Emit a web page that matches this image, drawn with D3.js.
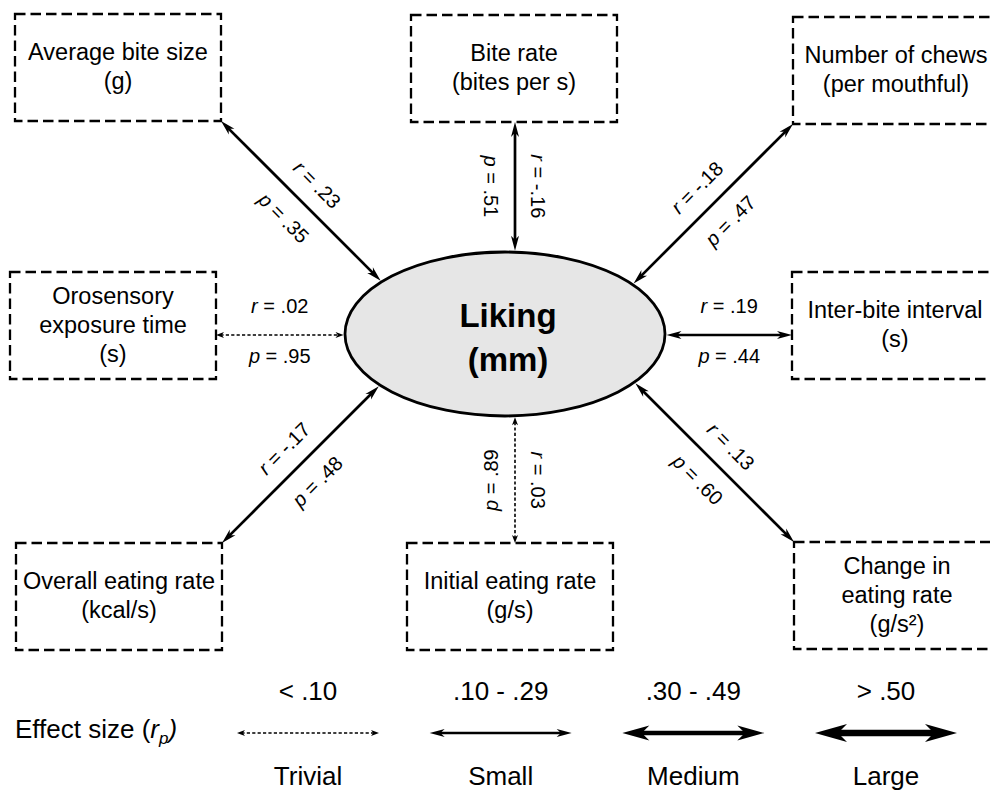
<!DOCTYPE html>
<html><head><meta charset="utf-8">
<script src="https://cdn.jsdelivr.net/npm/d3@7"></script>
<style>
body{margin:0;background:#fff}
svg{display:block}
text{font-family:"Liberation Sans",Arial,Helvetica,sans-serif;fill:#000}
</style>
</head><body>
<svg id="c" width="990" height="791"></svg>
<script>
// ---------- data ----------
const variables = ["Average bite size","Bite rate","Number of chews","Orosensory exposure time","Inter-bite interval","Overall eating rate","Initial eating rate","Change in eating rate"];
const boxLines = [["Average bite size","(g)"],["Bite rate","(bites per s)"],["Number of chews","(per mouthful)"],["Orosensory","exposure time","(s)"],["Inter-bite interval","(s)"],["Overall eating rate","(kcal/s)"],["Initial eating rate","(g/s)"],["Change in","eating rate","(g/s²)"]];
const rValues = [0.23,-0.16,-0.18,0.02,0.19,-0.17,0.03,0.13];
const pValues = [0.35,0.51,0.47,0.95,0.44,0.48,0.89,0.60];
const outcomeLines = ["Liking","(mm)"];
const effectCategories = ["Trivial","Small","Medium","Large"];
const effectRanges = ["< .10",".10 - .29",".30 - .49","> .50"];
const effectThresholds = [0.10,0.30,0.50];

// ---------- layout ----------
const nodeCol = ["left","center","right","left","right","left","center","right"];
const nodeRow = ["top","top","top","middle","middle","bottom","bottom","bottom"];
const nudgeX = [0,0,0,-5,-1,1,-4,1];
const nudgeY = [-1,0,2,0,0,0,0,-1];
const flipP = [false,false,false,false,false,false,true,false];

const svg = d3.select("#c");
const cx=505, cy=334, rx=160, ry=82;
const boxW=206, boxH=107;
const colX = d3.scaleOrdinal(["left","center","right"],[15,411,793]);
const rowY = d3.scaleOrdinal(["top","middle","bottom"],[15,272,543]);
const dirX = {left:1,center:0,right:-1};
const dirY = {top:1,middle:0,bottom:-1};

const category = d3.scaleThreshold(effectThresholds, effectCategories);
const strokeW = d3.scaleOrdinal(effectCategories,[1.6,2.7,4.3,6.5]);
const dashA = d3.scaleOrdinal(effectCategories,["3.2,2.2",null,null,null]);
const headLen = d3.scaleOrdinal(effectCategories,[8,15,27,32]);
const headHW = d3.scaleOrdinal(effectCategories,[3,4,7.5,9]);

const fmt = v => (v<0?"-":"") + Math.abs(v).toFixed(2).replace(/^0/,"");

function drawArrow(g,x1,y1,x2,y2,cat){
  const L=headLen(cat), Hh=headHW(cat), sw=strokeW(cat);
  const len=Math.hypot(x2-x1,y2-y1), ux=(x2-x1)/len, uy=(y2-y1)/len;
  const nx=-uy, ny=ux, s=0.55*L;
  const ln=g.append("line")
    .attr("x1",x1+ux*s).attr("y1",y1+uy*s)
    .attr("x2",x2-ux*s).attr("y2",y2-uy*s)
    .attr("stroke","#000").attr("stroke-width",sw);
  if(dashA(cat)) ln.attr("stroke-dasharray",dashA(cat));
  const head=(tx,ty,dx,dy)=>{
    const bx=tx-dx*L, by=ty-dy*L;
    const mx=tx-dx*L*0.72, my=ty-dy*L*0.72;
    g.append("path")
      .attr("d",`M${tx},${ty}L${bx+nx*Hh},${by+ny*Hh}L${mx},${my}L${bx-nx*Hh},${by-ny*Hh}Z`)
      .attr("fill","#000");
  };
  head(x2,y2,ux,uy);
  head(x1,y1,-ux,-uy);
}

// ---------- ellipse ----------
svg.append("ellipse").attr("cx",cx).attr("cy",cy).attr("rx",rx).attr("ry",ry)
  .attr("fill","#e6e6e6").attr("stroke","#000").attr("stroke-width",2.8);
svg.append("text").attr("x",508).attr("text-anchor","middle")
  .attr("font-size",33).attr("font-weight","bold")
  .selectAll("tspan").data(outcomeLines).join("tspan")
  .attr("x",508).attr("y",(d,i)=>327+i*44).text(d=>d);

// ---------- nodes ----------
const arrowsG = svg.append("g");
const labelsG = svg.append("g");
const boxesG = svg.append("g");

variables.forEach((v,i)=>{
  const col=nodeCol[i], row=nodeRow[i];
  const x=colX(col)+nudgeX[i], y=rowY(row)+nudgeY[i];
  boxesG.append("rect").attr("x",x).attr("y",y).attr("width",boxW).attr("height",boxH)
    .attr("fill","none").attr("stroke","#000").attr("stroke-width",2.3)
    .attr("stroke-dasharray","10.5,5");
  const lines=boxLines[i], n=lines.length;
  const c=y+boxH/2, b0=c+7-(n-1)*29/2;
  const t=boxesG.append("text").attr("text-anchor","middle").attr("font-size",23.5);
  lines.forEach((l,j)=>t.append("tspan").attr("x",x+boxW/2).attr("y",b0+j*29).text(l));

  const dx=dirX[col], dy=dirY[row], nn=Math.hypot(dx,dy), ux=dx/nn, uy=dy/nn;
  const ax = col==="left"? x+boxW : col==="right"? x : colX("center")+boxW/2+1;
  const ay = row==="top"? y+boxH : row==="bottom"? y : cy+1;
  const px=(ax-cx)/rx, py=(ay-cy)/ry, qx=ux/rx, qy=uy/ry;
  const A=qx*qx+qy*qy, B=2*(px*qx+py*qy), C=px*px+py*py-1;
  const tt=(-B-Math.sqrt(B*B-4*A*C))/(2*A);
  const ex=ax+ux*(tt-1.5), ey=ay+uy*(tt-1.5);
  const cat=category(Math.abs(rValues[i]));
  drawArrow(arrowsG,ax,ay,ex,ey,cat);

  let ang=Math.atan2(uy,ux)*180/Math.PI;
  if(ang>90.01) ang-=180;
  if(ang<=-90.01) ang+=180;
  if(Math.abs(ang+90)<0.01) ang=90;
  const mx=(ax+ex)/2, my=(ay+ey)/2;
  const horiz = row==="middle";
  const rOff = horiz? -29 : -23, pOff = horiz? 21 : 24;
  const lg=labelsG.append("g").attr("transform",`translate(${mx},${my}) rotate(${ang})`);
  const mk=(sym,val,off,flip)=>{
    const gg=lg.append("g").attr("transform",`translate(0,${off})`+(flip?" rotate(180)":""));
    const tx=gg.append("text").attr("text-anchor","middle").attr("font-size",20).attr("y",7);
    tx.append("tspan").attr("font-style","italic").text(sym);
    tx.append("tspan").text(" = "+fmt(val));
  };
  mk("r",rValues[i],rOff,false);
  mk("p",pValues[i],pOff,flipP[i]);
});

// ---------- legend ----------
const lx = d3.scalePoint(effectCategories,[308,886]);
const leg = svg.append("g");
const et = leg.append("text").attr("x",15).attr("y",738).attr("font-size",26);
et.append("tspan").text("Effect size (");
et.append("tspan").attr("font-style","italic").text("r");
et.append("tspan").attr("font-style","italic").attr("font-size",17).attr("dy",6).text("p");
et.append("tspan").attr("font-style","italic").attr("dy",-6).text(")");

effectCategories.forEach((cname,i)=>{
  const x=lx(cname);
  leg.append("text").attr("x",x).attr("y",700).attr("text-anchor","middle").attr("font-size",26).text(effectRanges[i]);
  drawArrow(leg,x-71,733,x+71,733,cname);
  leg.append("text").attr("x",x).attr("y",785).attr("text-anchor","middle").attr("font-size",26).text(cname);
});
</script>
</body></html>
